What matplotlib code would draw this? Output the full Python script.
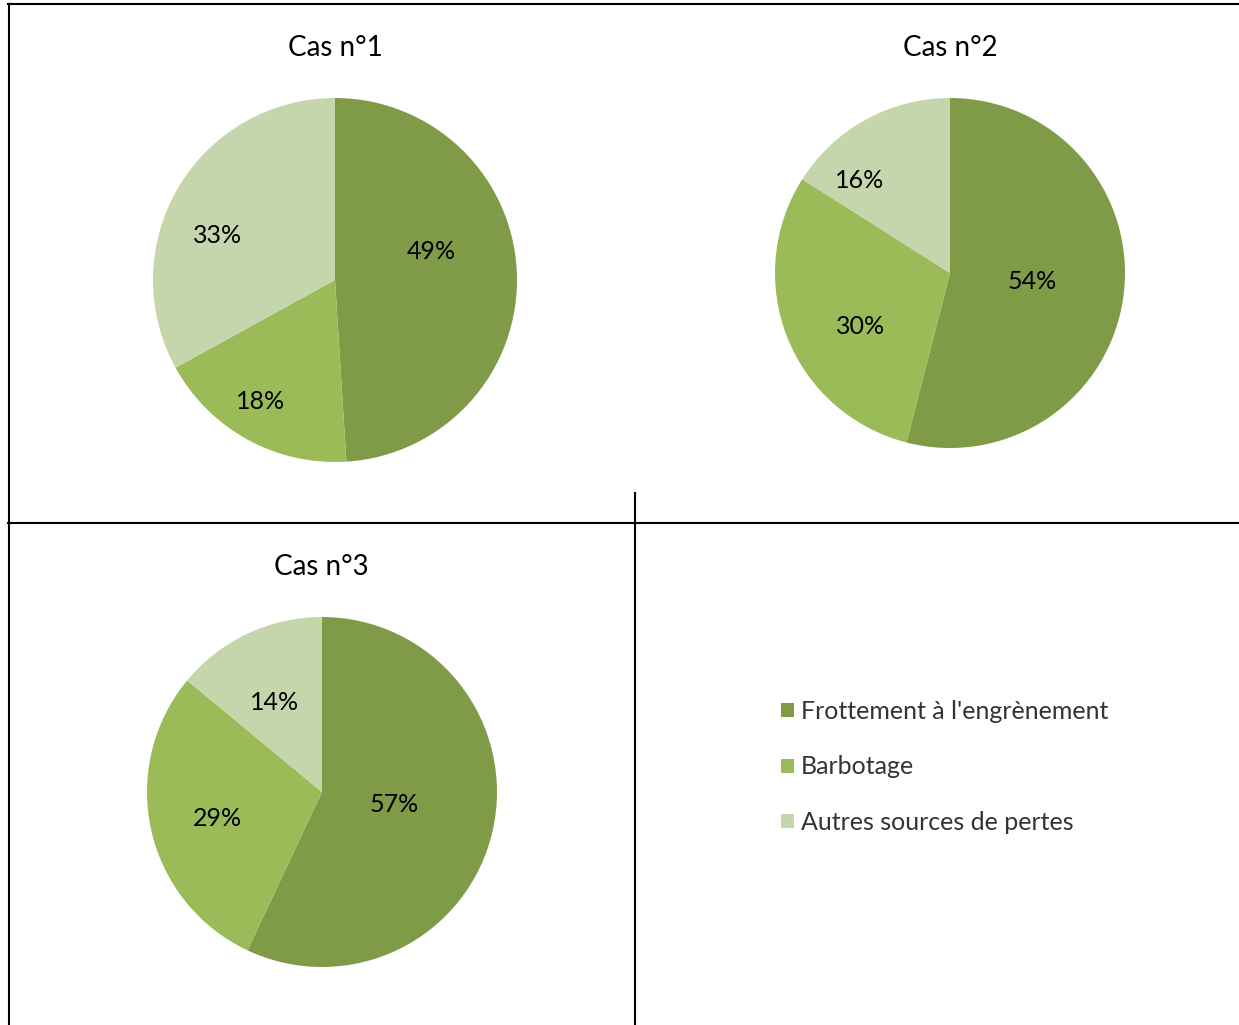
import matplotlib
matplotlib.use("Agg")
import matplotlib.pyplot as plt
from matplotlib.lines import Line2D
from matplotlib.patches import Patch

plt.rcParams['font.family'] = ['Lato', 'DejaVu Sans']

categories = ["Frottement à l'engrènement", "Barbotage", "Autres sources de pertes"]
titles = ["Cas n°1", "Cas n°2", "Cas n°3"]
values_cas1 = [49, 18, 33]
values_cas2 = [54, 30, 16]
values_cas3 = [57, 29, 14]
all_values = [values_cas1, values_cas2, values_cas3]

colors = ["#7F9B48", "#9BBB59", "#C6D6AC"]

W, H = 1239, 1025
fig = plt.figure(figsize=(W / 100, H / 100), dpi=100)

# pie geometry in pixels: center x, center y, radius
geoms = [(335, 280, 182), (950, 273, 175), (322, 792, 175)]
title_pos = [(335, 48), (950, 48), (321, 567)]
# label offsets in units of radius (x, y up)
label_offsets = [
    [(0.527, 0.154), (-0.407, -0.665), (-0.648, 0.242)],
    [(0.469, -0.051), (-0.514, -0.303), (-0.514, 0.531)],
    [(0.411, -0.069), (-0.600, -0.149), (-0.274, 0.514)],
]

for vals, (cx, cy, r), offs in zip(all_values, geoms, label_offsets):
    ax = fig.add_axes([(cx - r) / W, 1 - (cy + r) / H, 2 * r / W, 2 * r / H])
    ax.pie(vals, colors=colors, startangle=90, counterclock=False,
           radius=1, wedgeprops=dict(linewidth=0))
    ax.set_xlim(-1, 1)
    ax.set_ylim(-1, 1)
    ax.set_aspect('auto')
    ax.axis('off')
    for v, (ox, oy) in zip(vals, offs):
        ax.text(ox, oy, f"{v}%", ha='center', va='center', fontsize=18, color='black')

for t, (tx, ty) in zip(titles, title_pos):
    fig.text(tx / W, 1 - ty / H, t, ha='center', va='center', fontsize=20)

# frame lines
def hline(y, x0, x1):
    fig.add_artist(Line2D([x0 / W, x1 / W], [1 - y / H, 1 - y / H], color='black', lw=1.5))

def vline(x, y0, y1):
    fig.add_artist(Line2D([x / W, x / W], [1 - y0 / H, 1 - y1 / H], color='black', lw=1.5))

hline(4, 8, 1239)
hline(523, 8, 1239)
vline(9, 4, 1025)
vline(635, 493, 1025)

handles = [Patch(facecolor=c, edgecolor='none') for c in colors]
leg = fig.legend(handles, categories, loc='center left',
                 bbox_to_anchor=(781 / W, 1 - 767 / H), frameon=False,
                 handlelength=0.5, handleheight=0.5, borderpad=0, borderaxespad=0,
                 handletextpad=0.3, labelspacing=1.3,
                 prop={'family': ['Lato', 'DejaVu Sans'], 'size': 18})
for txt in leg.get_texts():
    txt.set_color('#333333')

fig.savefig("out.png", dpi=100, facecolor='white')
